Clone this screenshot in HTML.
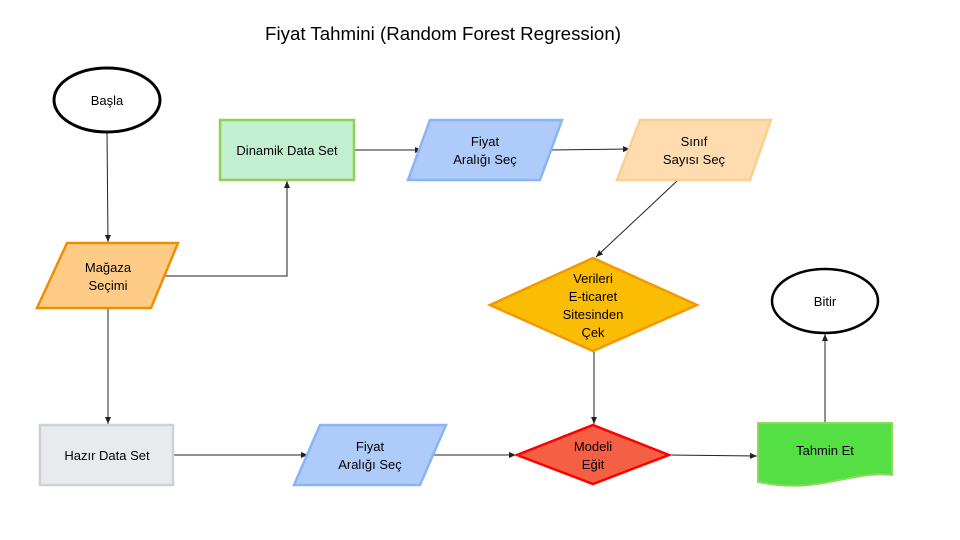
<!DOCTYPE html>
<html><head><meta charset="utf-8"><style>html,body{margin:0;padding:0;background:#fff}svg{display:block}text{font-family:"Liberation Sans",Arial,sans-serif;font-size:13px;fill:#000;text-anchor:middle}</style></head>
<body>
<svg width="960" height="540" viewBox="0 0 960 540" xmlns="http://www.w3.org/2000/svg">
<defs><marker id="a" markerWidth="8" markerHeight="8" refX="7" refY="4" orient="auto" markerUnits="userSpaceOnUse"><path d="M0,1 L7,4 L0,7 z" fill="#222"/></marker></defs>
<text x="443" y="40" style="font-size:18.7px">Fiyat Tahmini (Random Forest Regression)</text>
<g stroke="#222" stroke-width="1" fill="none" marker-end="url(#a)">
<path d="M107,132 L108,242"/>
<path d="M165,276 L287,276 L287,181"/>
<path d="M353,150 L422,150"/>
<path d="M549,150 L630,149"/>
<path d="M678,180 L596,257"/>
<path d="M108,308 L108,424"/>
<path d="M173,455 L308,455"/>
<path d="M433,455 L516,455"/>
<path d="M594,351 L594,424"/>
<path d="M669,455 L757,456"/>
<path d="M825,423 L825,334"/>
</g>
<ellipse cx="107" cy="100" rx="53" ry="32" fill="#fff" stroke="#000" stroke-width="3"/>
<text x="107" y="105">Başla</text>
<rect x="220" y="120" width="134" height="60" fill="#c2efcf" stroke="#93d052" stroke-width="2.5"/>
<text x="287" y="155">Dinamik Data Set</text>
<polygon points="430,120 562,120 540,180 408,180" fill="#aecbfa" stroke="#8ab4f8" stroke-width="2.5"/>
<text x="485" y="146">Fiyat</text><text x="485" y="164">Aralığı Seç</text>
<polygon points="640,120 771,120 750,180 617,180" fill="#fedcb0" stroke="#fbcf8f" stroke-width="2.5"/>
<text x="694" y="146">Sınıf</text><text x="694" y="164">Sayısı Seç</text>
<polygon points="67,243 178,243 151,308 37,308" fill="#ffcc88" stroke="#ef8e00" stroke-width="2.5"/>
<text x="108" y="272">Mağaza</text><text x="108" y="290">Seçimi</text>
<polygon points="593,258 697,305 593,351 490,305" fill="#fbbc04" stroke="#f29900" stroke-width="2.5"/>
<text x="593" y="283">Verileri</text><text x="593" y="301">E-ticaret</text><text x="593" y="319">Sitesinden</text><text x="593" y="337">Çek</text>
<ellipse cx="825" cy="301" rx="53" ry="32" fill="#fff" stroke="#000" stroke-width="2.5"/>
<text x="825" y="306">Bitir</text>
<rect x="40" y="425" width="133" height="60" fill="#e8eaed" stroke="#ccd1d6" stroke-width="2.5"/>
<text x="107" y="460">Hazır Data Set</text>
<polygon points="320,425 446,425 420,485 294,485" fill="#aecbfa" stroke="#8ab4f8" stroke-width="2.5"/>
<text x="370" y="451">Fiyat</text><text x="370" y="469">Aralığı Seç</text>
<polygon points="593,425 669,455 593,484 517,455" fill="#f55f44" stroke="#ff0000" stroke-width="2.5"/>
<text x="593" y="451">Modeli</text><text x="593" y="469">Eğit</text>
<path d="M758,423 L892,423 L892,475 C850,470 820,495 758,482 Z" fill="#54df45" stroke="#8fd85f" stroke-width="2"/>
<text x="825" y="455">Tahmin Et</text>
</svg>
</body></html>
